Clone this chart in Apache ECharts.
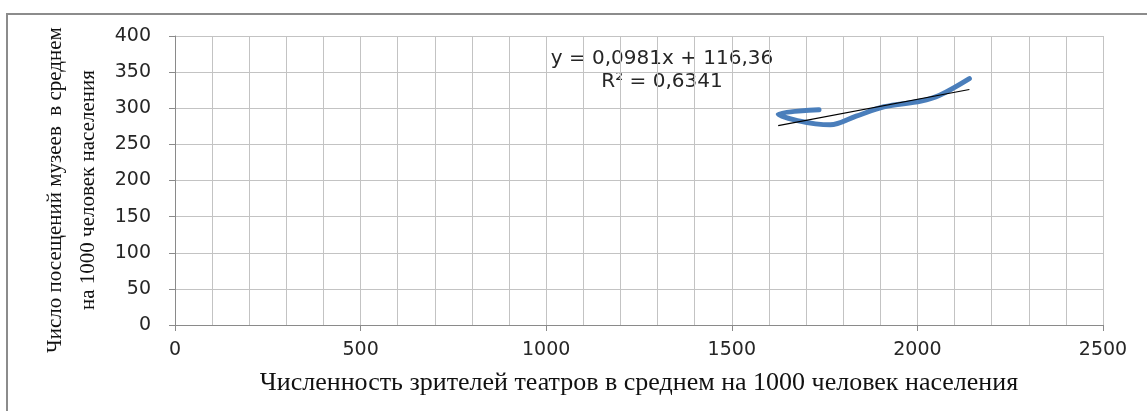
<!DOCTYPE html>
<html>
<head>
<meta charset="utf-8">
<title>Театры и музеи</title>
<script src="https://cdn.jsdelivr.net/npm/echarts@6/dist/echarts.min.js"></script>
<style>
	html, body { margin: 0; padding: 0; background: #fff; }
	#chart { width: 1147px; height: 411px; }
</style>
</head>
<body>
<div id="chart"></div>
<script>
// Values
var theatreViewers = [1735, 1625, 1765, 1835, 1910, 2010, 2060, 2140];
var museumVisits = [298, 292, 277, 289, 302, 310, 318, 341];
// Trend line ends, as drawn
var trendX = [1625, 2140];
var trendY = [276, 326];
var trendEquation = 'y = 0,0981x + 116,36';
var trendR2 = 'R² = 0,6341';
var xTitle = 'Численность зрителей театров в среднем на 1000 человек населения';
var yTitle = 'Число посещений музеев  в среднем\nна 1000 человек населения';

( function ( echarts ) {
	var chart = echarts.init( document.getElementById( 'chart' ) );

	function pairs( xs, ys ) {
		var out = [];
		for ( var i = 0; i < xs.length; i++ ) {
			out.push( [ xs[i], ys[i] ] );
		}
		return out;
	}

	// plain numbers, no thousands separator
	function plain( v ) {
		return String( v );
	}

	var gridColor = '#c3c3c3';
	var axisColor = '#8a8a8a';
	var tickFont = { fontFamily: 'DejaVu Sans', fontSize: 19, color: '#262626', formatter: plain };

	var option = {
		animation: false,
		grid: { left: 175, right: 44, top: 36, bottom: 86 },
		xAxis: {
			type: 'value',
			min: 0,
			max: 2500,
			interval: 500,
			name: xTitle,
			nameLocation: 'middle',
			nameGap: 45,
			nameTextStyle: { fontFamily: 'Liberation Serif', fontSize: 26, color: '#111' },
			axisLine: { show: true, lineStyle: { color: axisColor, width: 1 } },
			axisTick: { show: true, length: 6, lineStyle: { color: axisColor } },
			minorTick: { show: false, splitNumber: 5 },
			axisLabel: Object.assign( { margin: 16 }, tickFont ),
			splitLine: { show: true, lineStyle: { color: gridColor, width: 1 } },
			minorSplitLine: { show: true, lineStyle: { color: gridColor, width: 1 } }
		},
		yAxis: {
			type: 'value',
			min: 0,
			max: 400,
			interval: 50,
			axisLine: { show: true, lineStyle: { color: axisColor, width: 1 } },
			axisTick: { show: true, length: 6, lineStyle: { color: axisColor } },
			axisLabel: Object.assign( { margin: 24 }, tickFont ),
			splitLine: { show: true, lineStyle: { color: gridColor, width: 1 } }
		},
		graphic: [
			// outer frame
			{
				type: 'rect',
				shape: { x: 7, y: 14, width: 1200, height: 500 },
				style: { fill: 'none', stroke: '#8c8c8c', lineWidth: 2 },
				silent: true
			},
			{
				type: 'text',
				x: 72,
				y: 190,
				rotation: Math.PI / 2,
				style: {
					text: yTitle,
					fontFamily: 'Liberation Serif',
					fontSize: 21,
					lineHeight: 33,
					fill: '#111',
					textAlign: 'center',
					textVerticalAlign: 'middle'
				}
			},
			{
				type: 'text',
				x: 662,
				y: 59,
				style: {
					text: trendEquation,
					fontFamily: 'DejaVu Sans',
					fontSize: 20,
					fill: '#262626',
					textAlign: 'center',
					textVerticalAlign: 'middle'
				}
			},
			{
				type: 'text',
				x: 662,
				y: 82,
				style: {
					text: trendR2,
					fontFamily: 'DejaVu Sans',
					fontSize: 20,
					fill: '#262626',
					textAlign: 'center',
					textVerticalAlign: 'middle'
				}
			}
		],
		series: [
			{
				type: 'line',
				data: pairs( theatreViewers, museumVisits ),
				smooth: 0.35,
				symbol: 'none',
				lineStyle: { color: '#4a7ebb', width: 5, cap: 'round', join: 'round' },
				z: 2
			},
			{
				type: 'line',
				data: pairs( trendX, trendY ),
				symbol: 'none',
				lineStyle: { color: '#000', width: 1.2 },
				z: 3
			}
		]
	};

	chart.setOption( option );
}( echarts ) );
</script>
</body>
</html>
